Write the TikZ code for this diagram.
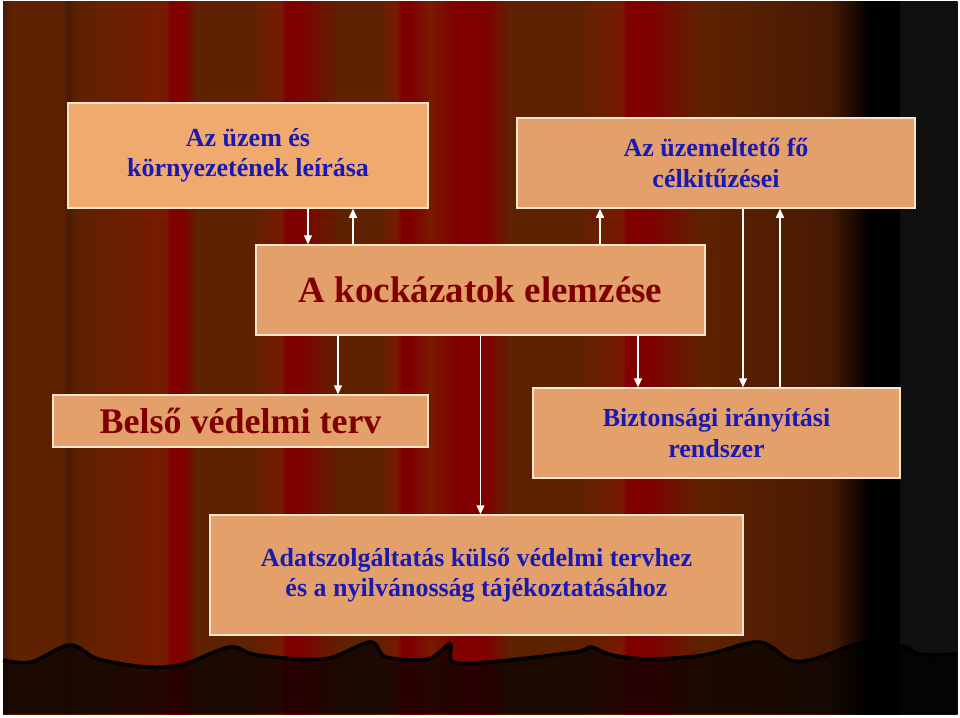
\documentclass[tikz,border=0pt]{standalone}
\usepackage{fontspec}
\setmainfont{Liberation Serif}
\usetikzlibrary{arrows.meta}
\definecolor{brn}{RGB}{94,34,0}
\definecolor{rdb}{RGB}{120,26,0}
\definecolor{crt}{RGB}{128,0,0}
\definecolor{dkb}{RGB}{72,26,4}
\definecolor{nblk}{RGB}{16,16,16}
\definecolor{boxfill}{RGB}{228,160,106}
\definecolor{boxlight}{RGB}{240,170,110}
\definecolor{boxline}{RGB}{250,228,205}
\definecolor{txtblue}{RGB}{26,26,178}
\definecolor{txtred}{RGB}{128,0,0}
\tikzset{
  >={Triangle[width=8pt,length=9pt]},
  obox/.style={draw=boxline, line width=1.5pt, fill=boxfill, align=center,
               inner sep=2pt, text=txtblue,
               font=\bfseries\fontsize{26}{30.5}\selectfont},
  redbox/.style={obox, text=txtred},
  arr/.style={->, white, line width=1.4pt},
}

\begin{document}
\begin{tikzpicture}[x=1pt, y=-1pt]
  \useasboundingbox (0,0) rectangle (960,717);
  % curtain
  \foreach \xa/\xb/\ca/\cb in {3/12/dkb/brn, 12/62/brn/brn, 62/68/brn/dkb,
      68/76/dkb/brn, 76/166/brn/rdb, 166/170/rdb/crt, 170/182/crt/crt,
      182/198/crt/brn, 198/250/brn/brn, 250/281/brn/rdb, 281/285/rdb/crt,
      285/297/crt/crt, 297/340/crt/brn, 340/378/brn/brn, 378/397/brn/rdb,
      397/401/rdb/crt, 401/411/crt/crt, 411/430/crt/rdb, 430/456/rdb/crt,
      456/485/crt/crt, 485/510/crt/brn, 510/575/brn/brn, 575/622/brn/rdb,
      622/626/rdb/crt, 626/648/crt/crt, 648/700/crt/brn, 700/830/brn/dkb,
      830/870/dkb/black, 870/900/black/black, 900/957/nblk/nblk}
    \shade[left color=\ca, right color=\cb] (\xa,2) rectangle (\xb+0.6,714);
  \fill[black, opacity=.7] plot[smooth, tension=.55] coordinates {(3,660)
      (31,662) (70,645) (98,659) (147,667) (184,664) (230,647) (257,655)
      (324,659) (370,642) (386,657) (428,659) (450,644) (453,662) (490,662)
      (575,652) (591,647) (612,655) (649,659) (704,655) (759,642) (790,660)
      (814,659) (857,644) (881,644) (906,647) (918,654) (937,655) (957,654)}
    -- (957,714) -- (3,714) -- cycle;
  \draw[black, line width=3.5pt] plot[smooth, tension=.55] coordinates {(3,660)
      (31,662) (70,645) (98,659) (147,667) (184,664) (230,647) (257,655)
      (324,659) (370,642) (386,657) (428,659) (450,644) (453,662) (490,662)
      (575,652) (591,647) (612,655) (649,659) (704,655) (759,642) (790,660)
      (814,659) (857,644) (881,644) (906,647) (918,654) (937,655) (957,654)};

  % boxes
  \node[obox, fill=boxlight, minimum width=360pt, minimum height=105pt] (uzem)
    at (248,155.5) {Az üzem és\\környezetének leírása};
  \node[obox, minimum width=398pt, minimum height=90pt] (cel)
    at (716,163) {Az üzemeltető fő\\célkitűzései};
  \node[redbox, minimum width=449pt, minimum height=90pt,
        font=\bfseries\fontsize{37}{44}\selectfont] (kock)
    at (480.5,290) {A kockázatok elemzése};
  \node[redbox, minimum width=375pt, minimum height=52pt,
        font=\bfseries\fontsize{36}{42}\selectfont] (belso)
    at (240.5,421) {Belső védelmi terv};
  \node[obox, minimum width=367pt, minimum height=90pt] (bir)
    at (716.5,433) {Biztonsági irányítási\\rendszer};
  \node[obox, minimum width=533pt, minimum height=120pt] (adat)
    at (476.5,575) {Adatszolgáltatás külső védelmi tervhez\\és a nyilvánosság tájékoztatásához};

  % arrows
  \draw[arr] ([xshift=60pt]uzem.south) -- ([xshift=60pt]uzem.south |- kock.north);
  \draw[arr] ([xshift=105pt]uzem.south |- kock.north) -- ([xshift=105pt]uzem.south);
  \draw[arr] ([xshift=-116pt]cel.south |- kock.north) -- ([xshift=-116pt]cel.south);
  \draw[arr] ([xshift=27pt]cel.south) -- ([xshift=27pt]cel.south |- bir.north);
  \draw[arr] ([xshift=64pt]cel.south |- bir.north) -- ([xshift=64pt]cel.south);
  \draw[arr] ([xshift=-142.5pt]kock.south) -- ([xshift=-142.5pt]kock.south |- belso.north);
  \draw[arr] (kock.south) -- (kock.south |- adat.north);
  \draw[arr] ([xshift=157.5pt]kock.south) -- ([xshift=157.5pt]kock.south |- bir.north);
\end{tikzpicture}
\end{document}
